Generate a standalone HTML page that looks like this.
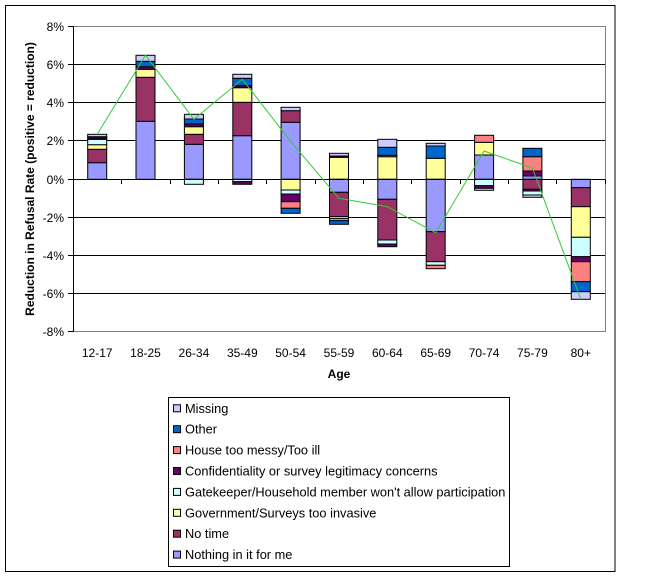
<!DOCTYPE html>
<html><head><meta charset="utf-8"><style>
html,body{margin:0;padding:0;background:#fff;}
svg{display:block;font-family:"Liberation Sans",Arial,sans-serif;}
.mi{fill:#CCCCFF}.ot{fill:#0066CC}.ho{fill:#FF8080}.co{fill:#660066}.ga{fill:#CCFFFF}.go{fill:#FFFF99}.nt{fill:#993366}.no{fill:#9999FF}
</style></head><body>
<svg width="655" height="584" viewBox="0 0 655 584" xmlns="http://www.w3.org/2000/svg">
<rect x="0" y="0" width="655" height="584" fill="#fff"/>
<rect x="5.5" y="5.5" width="609.5" height="566" fill="none" stroke="#000" stroke-width="1"/>
<rect x="73.5" y="26.5" width="532" height="305" fill="#fff" stroke="#808080" stroke-width="1"/>
<g stroke="#000" stroke-width="1">
<line x1="73" y1="64.5" x2="605" y2="64.5"/>
<line x1="73" y1="102.5" x2="605" y2="102.5"/>
<line x1="73" y1="140.5" x2="605" y2="140.5"/>
<line x1="73" y1="217.5" x2="605" y2="217.5"/>
<line x1="73" y1="255.5" x2="605" y2="255.5"/>
<line x1="73" y1="293.5" x2="605" y2="293.5"/>
<line x1="73.5" y1="26" x2="73.5" y2="332"/>
<line x1="68" y1="26.5" x2="73" y2="26.5"/>
<line x1="68" y1="64.5" x2="73" y2="64.5"/>
<line x1="68" y1="102.5" x2="73" y2="102.5"/>
<line x1="68" y1="140.5" x2="73" y2="140.5"/>
<line x1="68" y1="179.5" x2="73" y2="179.5"/>
<line x1="68" y1="217.5" x2="73" y2="217.5"/>
<line x1="68" y1="255.5" x2="73" y2="255.5"/>
<line x1="68" y1="293.5" x2="73" y2="293.5"/>
<line x1="68" y1="331.5" x2="73" y2="331.5"/>
</g>
<g font-size="12" fill="#000" text-anchor="end">
<text x="64" y="31">8%</text>
<text x="64" y="69">6%</text>
<text x="64" y="107">4%</text>
<text x="64" y="145">2%</text>
<text x="64" y="184">0%</text>
<text x="64" y="222">-2%</text>
<text x="64" y="260">-4%</text>
<text x="64" y="298">-6%</text>
<text x="64" y="336">-8%</text>
</g>
<text transform="translate(34,179) rotate(-90)" font-size="12" font-weight="bold" text-anchor="middle">Reduction in Refusal Rate (positive = reduction)</text>
<g stroke="#000" stroke-width="1">
<g transform="translate(87.7,0)">
<rect class="no" y="162.7" width="19" height="16.6"/><rect class="nt" y="149.3" width="19" height="13.4"/><rect class="go" y="144.7" width="19" height="4.6"/><rect class="ga" y="139.3" width="19" height="5.4"/><rect class="co" y="138" width="19" height="1.3"/><rect class="ot" y="136.7" width="19" height="1.3"/><rect class="mi" y="134.3" width="19" height="2.4"/>
</g>
<g transform="translate(136,0)">
<rect class="no" y="121.3" width="19" height="58"/><rect class="nt" y="77.3" width="19" height="44"/><rect class="go" y="69.3" width="19" height="8"/><rect class="co" y="66.7" width="19" height="2.6"/><rect class="ot" y="61.3" width="19" height="5.4"/><rect class="mi" y="55.3" width="19" height="6"/>
</g>
<g transform="translate(184.4,0)">
<rect class="no" y="144.3" width="19" height="35"/><rect class="nt" y="134.3" width="19" height="10"/><rect class="go" y="126.7" width="19" height="7.6"/><rect class="co" y="124" width="19" height="2.7"/><rect class="ot" y="119" width="19" height="5"/><rect class="mi" y="114.3" width="19" height="4.7"/><rect class="ga" y="179.3" width="19" height="5"/>
</g>
<g transform="translate(232.8,0)">
<rect class="no" y="135.7" width="19" height="43.6"/><rect class="nt" y="102.3" width="19" height="33.4"/><rect class="go" y="87.7" width="19" height="14.6"/><rect class="co" y="85.7" width="19" height="2"/><rect class="ot" y="78.3" width="19" height="7.4"/><rect class="mi" y="74.3" width="19" height="4"/><rect class="ga" y="179.3" width="19" height="2.4"/><rect class="co" y="181.7" width="19" height="2.6"/>
</g>
<g transform="translate(281.1,0)">
<rect class="no" y="122.3" width="19" height="57"/><rect class="nt" y="110.7" width="19" height="11.6"/><rect class="mi" y="107.3" width="19" height="3.4"/><rect class="go" y="179.3" width="19" height="10.7"/><rect class="ga" y="190" width="19" height="4"/><rect class="co" y="194" width="19" height="7.7"/><rect class="ho" y="201.7" width="19" height="6.6"/><rect class="ot" y="208.3" width="19" height="5"/>
</g>
<g transform="translate(329.5,0)">
<rect class="go" y="157.3" width="19" height="22"/><rect class="co" y="156" width="19" height="1.3"/><rect class="mi" y="153.3" width="19" height="2.7"/><rect class="no" y="179.3" width="19" height="13"/><rect class="nt" y="192.3" width="19" height="24.4"/><rect class="ga" y="216.7" width="19" height="2"/><rect class="mi" y="218.7" width="19" height="2"/><rect class="ot" y="220.7" width="19" height="3.6"/>
</g>
<g transform="translate(377.8,0)">
<rect class="go" y="156.7" width="19" height="22.6"/><rect class="ho" y="155.3" width="19" height="1.4"/><rect class="ot" y="147.3" width="19" height="8"/><rect class="mi" y="139.3" width="19" height="8"/><rect class="no" y="179.3" width="19" height="20"/><rect class="nt" y="199.3" width="19" height="40.7"/><rect class="ga" y="240" width="19" height="4"/><rect class="co" y="244" width="19" height="2.7"/>
</g>
<g transform="translate(426.2,0)">
<rect class="go" y="158.3" width="19" height="21"/><rect class="ot" y="146" width="19" height="12.3"/><rect class="mi" y="143.3" width="19" height="2.7"/><rect class="no" y="179.3" width="19" height="52.4"/><rect class="nt" y="231.7" width="19" height="30"/><rect class="ga" y="261.7" width="19" height="3.6"/><rect class="ho" y="265.3" width="19" height="3.4"/>
</g>
<g transform="translate(474.6,0)">
<rect class="no" y="155" width="19" height="24.3"/><rect class="go" y="142.3" width="19" height="12.7"/><rect class="ho" y="135.3" width="19" height="7"/><rect class="ga" y="179.3" width="19" height="6.4"/><rect class="co" y="185.7" width="19" height="2.6"/><rect class="mi" y="188.3" width="19" height="2"/>
</g>
<g transform="translate(522.9,0)">
<rect class="no" y="176" width="19" height="3.3"/><rect class="co" y="171" width="19" height="5"/><rect class="ho" y="156.7" width="19" height="14.3"/><rect class="ot" y="148.3" width="19" height="8.4"/><rect class="nt" y="179.3" width="19" height="10"/><rect class="co" y="189.3" width="19" height="1.7"/><rect class="ga" y="191" width="19" height="4"/><rect class="mi" y="195" width="19" height="2.3"/>
</g>
<g transform="translate(571.3,0)">
<rect class="no" y="179.3" width="19" height="8.4"/><rect class="nt" y="187.7" width="19" height="19"/><rect class="go" y="206.7" width="19" height="30.6"/><rect class="ga" y="237.3" width="19" height="19.4"/><rect class="co" y="256.7" width="19" height="5"/><rect class="ho" y="261.7" width="19" height="20"/><rect class="ot" y="281.7" width="19" height="10"/><rect class="mi" y="291.7" width="19" height="7.6"/>
</g>
<line x1="73" y1="179.5" x2="605" y2="179.5"/>
<line x1="73.5" y1="179.5" x2="73.5" y2="184"/>
<line x1="121.5" y1="179.5" x2="121.5" y2="184"/>
<line x1="170.5" y1="179.5" x2="170.5" y2="184"/>
<line x1="218.5" y1="179.5" x2="218.5" y2="184"/>
<line x1="266.5" y1="179.5" x2="266.5" y2="184"/>
<line x1="315.5" y1="179.5" x2="315.5" y2="184"/>
<line x1="363.5" y1="179.5" x2="363.5" y2="184"/>
<line x1="411.5" y1="179.5" x2="411.5" y2="184"/>
<line x1="460.5" y1="179.5" x2="460.5" y2="184"/>
<line x1="508.5" y1="179.5" x2="508.5" y2="184"/>
<line x1="556.5" y1="179.5" x2="556.5" y2="184"/>
<line x1="605.5" y1="179.5" x2="605.5" y2="184"/>
</g>
<polyline fill="none" stroke="#33CC33" stroke-width="1" points="97.2,134.3 145.5,55.3 193.9,119.3 242.3,79.3 290.6,141.3 339,198.3 387.3,206.7 435.7,232.7 484.1,151 532.4,168 580.8,299.3"/>
<g font-size="12" text-anchor="middle">
<text x="97.2" y="357">12-17</text><text x="145.5" y="357">18-25</text><text x="193.9" y="357">26-34</text><text x="242.3" y="357">35-49</text><text x="290.6" y="357">50-54</text><text x="339" y="357">55-59</text><text x="387.3" y="357">60-64</text><text x="435.7" y="357">65-69</text><text x="484.1" y="357">70-74</text><text x="532.4" y="357">75-79</text><text x="580.8" y="357">80+</text>
</g>
<text x="339" y="378" font-size="12" font-weight="bold" text-anchor="middle">Age</text>
<rect x="168.5" y="397.5" width="341" height="169" fill="#fff" stroke="#000" stroke-width="1"/>
<g stroke="#000" stroke-width="1">
<rect class="mi" x="173.5" y="404.8" width="7" height="7"/>
<rect class="ot" x="173.5" y="425.7" width="7" height="7"/>
<rect class="ho" x="173.5" y="446.6" width="7" height="7"/>
<rect class="co" x="173.5" y="467.5" width="7" height="7"/>
<rect class="ga" x="173.5" y="488.4" width="7" height="7"/>
<rect class="go" x="173.5" y="509.3" width="7" height="7"/>
<rect class="nt" x="173.5" y="530.2" width="7" height="7"/>
<rect class="no" x="173.5" y="551.1" width="7" height="7"/>
</g>
<g font-size="12.8">
<text x="185" y="412.8">Missing</text>
<text x="185" y="433.7">Other</text>
<text x="185" y="454.6">House too messy/Too ill</text>
<text x="185" y="475.5">Confidentiality or survey legitimacy concerns</text>
<text x="185" y="496.4">Gatekeeper/Household member won't allow participation</text>
<text x="185" y="517.3">Government/Surveys too invasive</text>
<text x="185" y="538.2">No time</text>
<text x="185" y="559.1">Nothing in it for me</text>
</g>
</svg>
</body></html>
